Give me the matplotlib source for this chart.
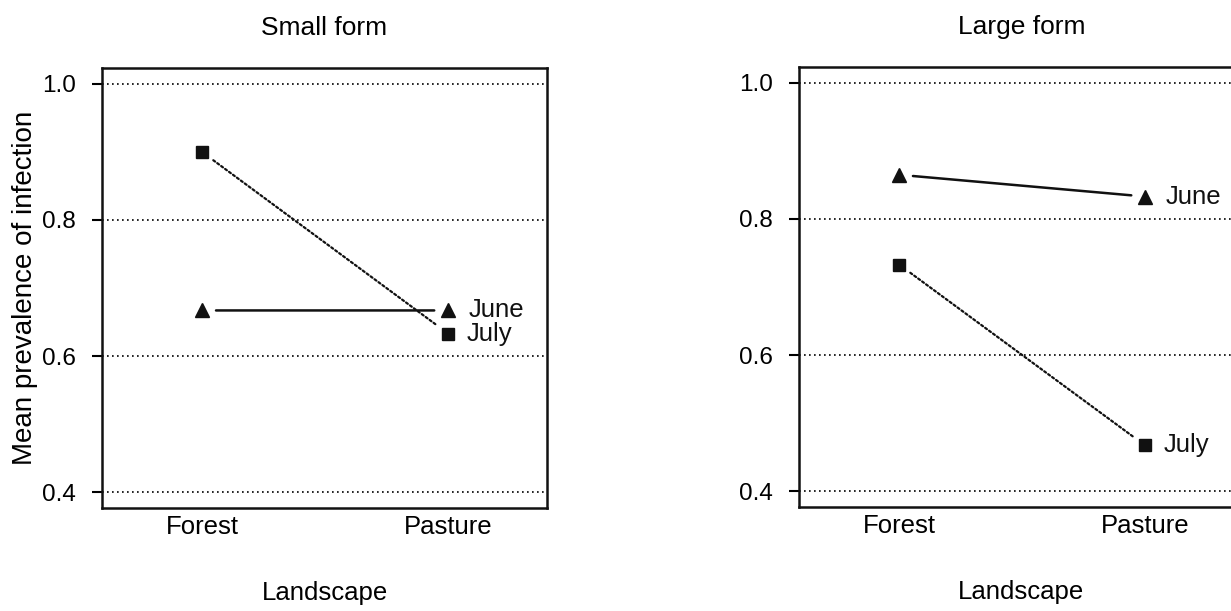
import matplotlib
matplotlib.use("Agg")
import matplotlib.pyplot as plt

plt.rcParams['font.family'] = ['Liberation Sans', 'DejaVu Sans']

categories = ["Forest", "Pasture"]
panel_titles = ["Small form", "Large form"]
series_names = ["June", "July"]
small_june = [0.667, 0.667]
small_july = [0.900, 0.633]
large_june = [0.865, 0.833]
large_july = [0.733, 0.467]
yticks = [0.4, 0.6, 0.8, 1.0]
ytick_labels = ["0.4", "0.6", "0.8", "1.0"]

W, H = 1231, 611
fig = plt.figure(figsize=(W / 100, H / 100), dpi=100)

fs = 18.5
panels = [
    (small_june, small_july, [102 / W, 1 - 508 / H, 445 / W, 440 / H]),
    (large_june, large_july, [799 / W, 1 - 507 / H, 445 / W, 440 / H]),
]

xpos = [1, 2]
for i, (june, july, rect) in enumerate(panels):
    ax = fig.add_axes(rect)
    ax.set_xlim(0.593, 2.402)
    ax.set_ylim(0.3765, 1.0235)
    for y in yticks:
        ax.axhline(y, color='black', lw=1.2, linestyle=(0, (1, 2)), zorder=1)
    # markers
    ax.plot(xpos, june, linestyle='none', marker='^', ms=9.5, color='#111111', zorder=3)
    ax.plot(xpos, july, linestyle='none', marker='s', ms=8.5, color='#111111', zorder=3)
    # connecting lines with gaps near markers
    ax.annotate('', xy=(xpos[1], june[1]), xytext=(xpos[0], june[0]),
                arrowprops=dict(arrowstyle='-', shrinkA=10, shrinkB=10,
                                lw=1.8, color='#111111'))
    ax.annotate('', xy=(xpos[1], july[1]), xytext=(xpos[0], july[0]),
                arrowprops=dict(arrowstyle='-', shrinkA=10, shrinkB=10,
                                lw=1.6, color='#111111', linestyle=(0, (1, 1.2))))
    # series labels
    ax.annotate(series_names[0], xy=(xpos[1], june[1]), xytext=(15, 0),
                textcoords='offset points', va='center', ha='left', fontsize=fs,
                color='#111111')
    ax.annotate(series_names[1], xy=(xpos[1], july[1]), xytext=(13, 0),
                textcoords='offset points', va='center', ha='left', fontsize=fs,
                color='#111111')
    ax.set_xticks(xpos)
    ax.set_xticklabels(categories, fontsize=fs)
    ax.set_yticks(yticks)
    ax.set_yticklabels(ytick_labels, fontsize=17.5)
    ax.tick_params(axis='x', length=0, pad=5)
    ax.tick_params(axis='y', length=7, width=1.5, pad=12, direction='out')
    for s in ax.spines.values():
        s.set_linewidth(1.8)
        s.set_color('#111111')
    ax.set_title(panel_titles[i], fontsize=19, pad=24)
    ax.set_xlabel("Landscape", fontsize=fs, labelpad=30)
    if i == 0:
        ax.set_ylabel("Mean prevalence of infection", fontsize=20, labelpad=3)

fig.savefig("out.png", dpi=100)
